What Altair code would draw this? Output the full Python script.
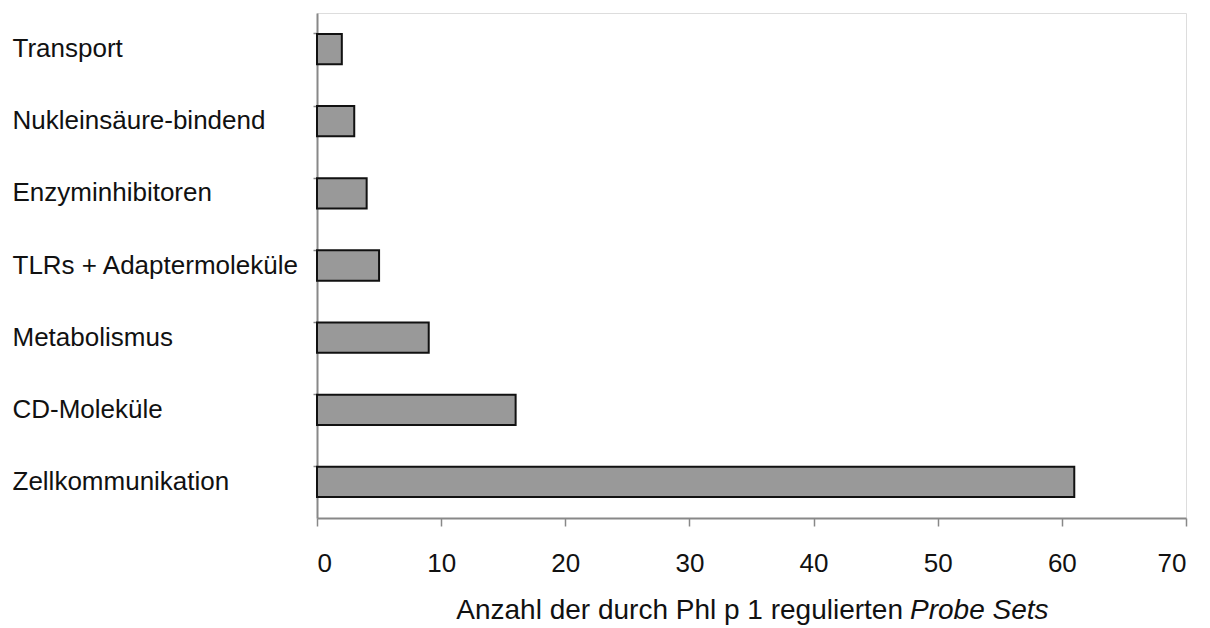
import altair as alt
import pandas as pd

categories = ["Transport", "Nukleinsäure-bindend", "Enzyminhibitoren",
              "TLRs + Adaptermoleküle", "Metabolismus", "CD-Moleküle",
              "Zellkommunikation"]
values = [2, 3, 4, 5, 9, 16, 61]
title_normal = "Anzahl der durch Phl p 1 regulierten"
title_italic = "Probe Sets"

df = pd.DataFrame({"Kategorie": categories, "Anzahl": values})

FONT = "Liberation Sans"
W, H = 869, 505

bars = alt.Chart(df).mark_bar(
    color="#999999", stroke="#111111", strokeWidth=2
).encode(
    x=alt.X("Anzahl:Q",
            scale=alt.Scale(domain=[0, 70], nice=False),
            axis=alt.Axis(values=[0, 10, 20, 30, 40, 50, 60, 70],
                          title=None,
                          grid=False, tickSize=8, tickColor="#888888",
                          domainColor="#888888", domainWidth=2, tickWidth=1.5,
                          labelFontSize=26, labelFont=FONT, labelColor="#111111",
                          labelPadding=24)),
    y=alt.Y("Kategorie:N", sort=categories,
            scale=alt.Scale(paddingInner=0.58, paddingOuter=0.29),
            axis=alt.Axis(title=None, labelAlign="left", labelPadding=301,
                          labelFontSize=26, labelFont=FONT, labelColor="#111111",
                          bandPosition=0, tickSize=4, tickColor="#888888",
                          domainColor="#888888", domainWidth=2, tickWidth=1.5,
                          labelLimit=400)),
)

t1 = alt.Chart(pd.DataFrame({"t": [title_normal]})).mark_text(
    align="right", baseline="alphabetic", font=FONT, fontSize=28, color="#111111"
).encode(text="t:N", x=alt.value(586), y=alt.value(606))

t2 = alt.Chart(pd.DataFrame({"t": [title_italic]})).mark_text(
    align="left", baseline="alphabetic", font=FONT, fontSize=28,
    fontStyle="italic", color="#111111"
).encode(text="t:N", x=alt.value(593), y=alt.value(606))

chart = alt.layer(bars, t1, t2).properties(
    width=W, height=H,
    padding={"left": 4, "top": 5, "right": 10, "bottom": 0}
).configure_view(
    stroke="#888888", strokeWidth=2
).configure(background="white")

chart.save("out.html", embed_options={"renderer": "svg", "actions": False})
